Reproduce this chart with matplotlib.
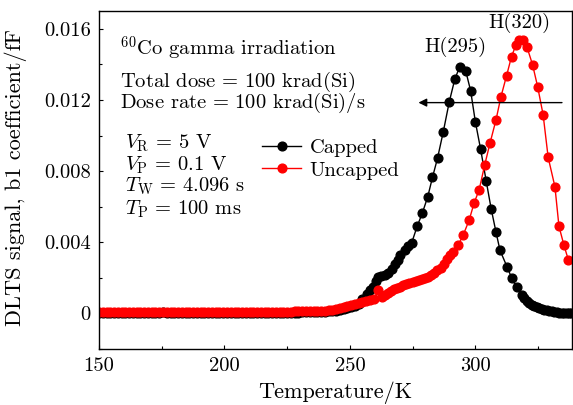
import matplotlib
matplotlib.use("Agg")
import matplotlib.pyplot as plt
from matplotlib.ticker import MultipleLocator

plt.rcParams['font.family'] = 'serif'
plt.rcParams['font.serif'] = ['cmr10']
plt.rcParams['mathtext.fontset'] = 'cm'
plt.rcParams['axes.formatter.use_mathtext'] = True

# ---- data ----
t_low = [150, 151.5, 153, 154.5, 156, 157.5, 159, 160.5, 162, 163.5,
         165, 166.5, 168, 169.5, 171, 172.5, 174, 175.5, 177, 178.5,
         180, 181.5, 183, 184.5, 186, 187.5, 189, 190.5, 192, 193.5,
         195, 196.5, 198, 199.5, 201, 202.5, 204, 205.5, 207, 208.5,
         210, 211.5, 213, 214.5, 216, 217.5, 219, 220.5, 222, 223.5,
         225, 226.5, 228, 229.5, 231, 232.5, 234, 235.5, 237, 238.5, 240]
capped_low = [4, 3, 4, 5, 3, 4, 3, 2, 3, 4,
              4, 5, 4, 3, 3, 4, 5, 6, 5, 4,
              3, 3, 2, 3, 4, 3, 2, 2, 3, 3,
              2, 3, 4, 3, 2, 2, 3, 2, 3, 2,
              2, 3, 3, 4, 3, 3, 4, 3, 4, 4,
              5, 4, 5, 5, 6, 6, 7, 7, 8, 9, 10]
uncapped_low = [8, 9, 8, 7, 8, 9, 8, 7, 8, 9,
                9, 8, 8, 9, 8, 7, 8, 9, 10, 9,
                8, 8, 7, 8, 9, 8, 7, 7, 8, 9,
                8, 8, 7, 8, 8, 7, 8, 8, 7, 8,
                8, 9, 8, 8, 9, 9, 8, 9, 10, 10,
                9, 10, 11, 11, 12, 12, 13, 14, 14, 15, 16]

t_capped_high = [241.5, 243, 244.5, 246, 247.5, 249, 250.5, 252, 253.5, 255,
                 256.7, 258, 259.2, 260.2, 261.2, 262.5, 263.9, 265.3, 266.7, 268,
                 269.1, 270, 271.9, 273.3, 274.6, 276.8, 278.8, 281, 282.9, 284.9,
                 287.2, 289.6, 291.8, 293.8, 296.2, 298.1, 300, 302.1, 304.3, 306.3,
                 308.2, 309.8, 312.7, 314.5, 316.4, 318.4, 319.5, 320.5, 321.5, 322.5,
                 323.5, 324.5, 325.5, 326.5, 327.5, 328.5, 329.5, 330.5, 331.5, 332.5,
                 333.5, 334.5, 335.5, 336.5, 337.5, 338.3]
capped_high = [0.00011, 0.00013, 0.00016, 0.00019, 0.00023, 0.00028, 0.00034, 0.00043, 0.00055, 0.0008,
               0.0011, 0.0013, 0.0015, 0.0018, 0.00205, 0.0021, 0.00214, 0.0023, 0.00252, 0.0028,
               0.00299, 0.00327, 0.00359, 0.0038, 0.00396, 0.0049, 0.00562, 0.00655, 0.00765, 0.00872,
               0.01021, 0.0119, 0.01317, 0.01388, 0.0136, 0.01252, 0.01076, 0.00922, 0.00745, 0.00587,
               0.00458, 0.00355, 0.00259, 0.00198, 0.00148, 0.00101, 0.00085, 0.0007, 0.0006, 0.0005,
               0.00042, 0.00035, 0.0003, 0.00025, 0.0002, 0.00017, 0.00014, 0.00011, 0.00009, 0.00007,
               0.00005, 0.00004, 0.00003, 0.00002, 0.00001, 0.0]

t_uncapped_high = [241.5, 243, 244.5, 246, 247.5, 249, 250.5, 252, 253.5, 255,
                   256.5, 258, 259.5, 261.2, 262.6, 264, 265.3, 266.5, 267.6, 268.8,
                   270, 271.2, 272.5, 273.7, 275, 276.2, 277.4, 278.6, 279.8, 281,
                   282.2, 283.4, 284.7, 286.1, 287.3, 288.5, 289.8, 291.2, 293.1, 295.1,
                   297.5, 299.5, 301.5, 303.7, 305.8, 308.2, 310.2, 312.4, 314.4, 316.2,
                   317.4, 318.8, 320.5, 322.8, 324.8, 327, 329, 331.7, 333.3, 335.3, 337]
uncapped_high = [0.00018, 0.00021, 0.00025, 0.00029, 0.00034, 0.0004, 0.00046, 0.00051, 0.00057, 0.00063,
                 0.00068, 0.00073, 0.0008, 0.0013, 0.00092, 0.00102, 0.00115, 0.00128, 0.00138, 0.00145,
                 0.00151, 0.00158, 0.00166, 0.00172, 0.00179, 0.00185, 0.0019, 0.00196, 0.00201, 0.00207,
                 0.00216, 0.00228, 0.00242, 0.00257, 0.0028, 0.00308, 0.00326, 0.00345, 0.00383, 0.00439,
                 0.00524, 0.00621, 0.00695, 0.00834, 0.00956, 0.01087, 0.01219, 0.01335, 0.01444, 0.0151,
                 0.01538, 0.01538, 0.015, 0.01397, 0.01275, 0.01116, 0.00877, 0.00712, 0.0049, 0.00383, 0.00303]

y_ticks = [0, 0.004, 0.008, 0.012, 0.016]
y_tick_labels = ['0', '0.004', '0.008', '0.012', '0.016']
x_ticks = [150, 200, 250, 300]
x_tick_labels = ['150', '200', '250', '300']

series_labels = ['Capped', 'Uncapped']
series_colors = ['black', '#ff0000']

info_lines = [r'$^{60}$Co gamma irradiation',
              r'Total dose$\,=\,$100 krad(Si)',
              r'Dose rate$\,=\,$100 krad(Si)/s']
param_lines = [r'$V_{\mathrm{R}}\,=\,5$ V',
               r'$V_{\mathrm{P}}\,=\,0.1$ V',
               r'$T_{\mathrm{W}}\,=\,4.096$ s',
               r'$T_{\mathrm{P}}\,=\,100$ ms']
peak_labels = ['H(295)', 'H(320)']

# ---- build series ----
t_capped = t_low + t_capped_high
v_capped = [v * 1e-5 for v in capped_low] + capped_high
t_uncapped = t_low + t_uncapped_high
v_uncapped = [v * 1e-5 for v in uncapped_low] + uncapped_high

FS = 14.8
FL = 16
fig = plt.figure(figsize=(5.73, 4.05), dpi=100)
ax = fig.add_axes([99 / 573, 1 - 349 / 405, 473 / 573, 338 / 405])

ax.plot(t_capped, v_capped, '-o', color=series_colors[0], ms=6.3, lw=1.0,
        label=series_labels[0])
ax.plot(t_uncapped, v_uncapped, '-o', color=series_colors[1], ms=6.3, lw=1.0,
        label=series_labels[1])

ax.set_xlim(150, 338.5)
ax.set_ylim(-0.002, 0.017)
ax.set_xticks(x_ticks)
ax.set_xticklabels(x_tick_labels)
ax.set_yticks(y_ticks)
ax.set_yticklabels(y_tick_labels)
ax.xaxis.set_minor_locator(MultipleLocator(25))
ax.yaxis.set_minor_locator(MultipleLocator(0.002))
ax.tick_params(which='both', direction='in', labelsize=FS, width=0.8,
               top=False, right=False)
ax.tick_params(which='major', length=3.2, pad=6)
ax.tick_params(which='minor', length=2.4)
for s in ax.spines.values():
    s.set_linewidth(1.0)

ax.set_xlabel('Temperature/K', fontsize=FL)
ax.set_ylabel('DLTS signal, b1 coefficient/fF', fontsize=FL)
ax.xaxis.set_label_coords(0.5, -0.096)
ax.yaxis.set_label_coords(-0.152, 0.507)

info_y = [0.8876, 0.7908, 0.7269]
for txt, yy in zip(info_lines, info_y):
    ax.text(0.044, yy, txt, transform=ax.transAxes, fontsize=FS, va='center', ha='left')
param_y = [0.6086, 0.5444, 0.4802, 0.4133]
for txt, yy in zip(param_lines, param_y):
    ax.text(0.055, yy, txt, transform=ax.transAxes, fontsize=FS, va='center', ha='left')

ax.text(0.7526, 0.8944, peak_labels[0], transform=ax.transAxes, fontsize=FS,
        va='center', ha='center')
ax.text(0.8879, 0.9645, peak_labels[1], transform=ax.transAxes, fontsize=FS,
        va='center', ha='center')

ax.annotate('', xy=(277.3, 0.01185), xytext=(334.5, 0.01185),
            arrowprops=dict(arrowstyle='-|>', color='black', lw=1.0,
                            mutation_scale=12, shrinkA=0, shrinkB=0))

ax.legend(loc='upper left', bbox_to_anchor=(0.345, 0.622), frameon=False,
          fontsize=FS, handlelength=1.9, handletextpad=0.4, labelspacing=0.2,
          borderaxespad=0, borderpad=0)

fig.savefig('out.png', dpi=100)
